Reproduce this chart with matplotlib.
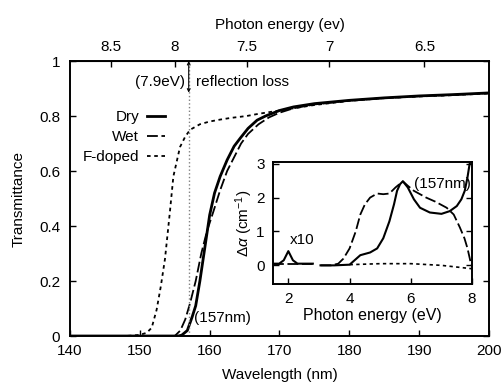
import numpy as np
import matplotlib.pyplot as plt

plt.rcParams['font.family'] = ['Liberation Sans', 'DejaVu Sans']
plt.rcParams['mathtext.fontset'] = 'custom'
plt.rcParams['mathtext.rm'] = 'Liberation Sans'
plt.rcParams['mathtext.it'] = 'Liberation Sans:italic'

# main panel: transmittance vs wavelength
dry_wl = [140, 150, 155.5, 156.0, 156.8, 157.5, 158.0, 158.6, 159.3, 160.0, 160.7, 161.5,
          162.5, 163.5, 164.4, 165.5, 166.8, 168, 170, 172, 175, 180, 185, 190, 195, 200]
dry_t = [0, 0, 0, 0.003, 0.02, 0.07, 0.11, 0.20, 0.32, 0.44, 0.52, 0.58,
         0.64, 0.69, 0.72, 0.755, 0.785, 0.80, 0.82, 0.833, 0.845, 0.857, 0.866, 0.873, 0.878, 0.884]

wet_wl = [140, 150, 155.0, 155.8, 156.5, 157.2, 158.0, 158.8, 159.6, 160.5, 161.5, 162.5,
          163.5, 164.5, 165.5, 167, 168.5, 170, 172, 175, 180, 185, 190, 195, 200]
wet_t = [0, 0, 0, 0.02, 0.06, 0.12, 0.20, 0.30, 0.38, 0.45, 0.53, 0.60,
         0.65, 0.70, 0.735, 0.77, 0.795, 0.812, 0.828, 0.842, 0.856, 0.865, 0.872, 0.877, 0.883]

fdop_wl = [140, 148, 150, 151, 151.7, 152.4, 153.0, 153.6, 154.3, 154.8, 155.75, 156.5,
           157.2, 158.6, 160, 161.5, 163, 165.3, 167, 170, 175, 180, 185, 190, 195, 200]
fdop_t = [0, 0, 0.004, 0.012, 0.03, 0.095, 0.18, 0.28, 0.45, 0.58, 0.687, 0.725,
          0.75, 0.77, 0.78, 0.787, 0.793, 0.80, 0.808, 0.82, 0.84, 0.855, 0.865, 0.871, 0.876, 0.882]

# inset: absorption change vs photon energy
lowE = [1.5, 1.7, 1.85, 2.0, 2.15, 2.3, 2.5, 2.8]
low_dry = [0.05, 0.05, 0.15, 0.42, 0.15, 0.05, 0.05, 0.05]
low_wet = [0.03, 0.03, 0.03, 0.03, 0.03, 0.03, 0.03, 0.03]

dryE = [3.05, 3.5, 4.0, 4.35, 4.67, 4.9, 5.1, 5.3, 5.45, 5.55, 5.65, 5.74, 5.9, 6.1,
        6.3, 6.62, 7.0, 7.27, 7.5, 7.65, 7.76, 7.85, 7.92, 8.0]
dry_da = [0, 0, 0.02, 0.3, 0.38, 0.5, 0.8, 1.3, 1.8, 2.2, 2.4, 2.48, 2.3, 1.95,
          1.7, 1.56, 1.52, 1.6, 1.75, 1.95, 2.2, 2.6, 3.0, 3.1]

wetE = [3.05, 3.4, 3.63, 3.8, 4.0, 4.2, 4.35, 4.5, 4.67, 4.9, 5.1, 5.3, 5.5, 5.74,
        5.9, 6.1, 6.5, 6.8, 7.17, 7.4, 7.6, 7.75, 7.85, 7.95, 8.0]
wet_da = [0, 0, 0.05, 0.2, 0.5, 1.0, 1.5, 1.8, 2.0, 2.12, 2.1, 2.12, 2.3, 2.48,
          2.35, 2.2, 2.0, 1.88, 1.7, 1.5, 1.12, 0.8, 0.5, 0.1, -0.05]

fdopE = [4.0, 5.0, 6.0, 7.0, 7.5, 8.0]
fdop_da = [0.02, 0.05, 0.05, 0.0, -0.05, -0.1]

HC = 1239.84
FS = 11

fig = plt.figure(figsize=(5.04, 3.83), dpi=100)
ax = fig.add_axes([0.1389, 0.1227, 0.8313, 0.718])

ax.plot(dry_wl, dry_t, color='black', lw=2.0, label='Dry')
ax.plot(wet_wl, wet_t, color='black', lw=1.3, ls=(0, (6, 2)), label='Wet')
ax.plot(fdop_wl, fdop_t, color='black', lw=1.3, ls=(0, (2, 2)), label='F-doped')
ax.axvline(157, color='gray', lw=1.0, ls=':')
ax.annotate('', xy=(157, 0.885), xytext=(157, 1.0),
            arrowprops=dict(arrowstyle='<->', lw=0.8, color='black',
                            shrinkA=0, shrinkB=0, mutation_scale=5))

ax.set_xlim(140, 200)
ax.set_ylim(0, 1)
ax.set_xticks([140, 150, 160, 170, 180, 190, 200])
ax.set_yticks([0, 0.2, 0.4, 0.6, 0.8, 1])
ax.set_yticklabels(['0', '0.2', '0.4', '0.6', '0.8', '1'])
ax.tick_params(direction='in', length=4, labelsize=FS, right=True, width=1)
ax.tick_params(axis='x', pad=6)
ax.tick_params(axis='y', pad=7)
for s in ax.spines.values():
    s.set_linewidth(1.4)
ax.set_xlabel('Wavelength (nm)', fontsize=FS, labelpad=7)
ax.set_ylabel('Transmittance', fontsize=FS, labelpad=10)

ax.text(156.4, 0.924, '(7.9eV)', ha='right', va='center', fontsize=FS)
ax.text(158.0, 0.924, 'reflection loss', ha='left', va='center', fontsize=FS)
ax.text(157.8, 0.065, '(157nm)', ha='left', va='center', fontsize=FS)

sec = ax.secondary_xaxis('top', functions=(lambda x: HC / np.maximum(x, 1e-6),
                                           lambda e: HC / np.maximum(e, 1e-6)))
sec.set_xticks([8.5, 8, 7.5, 7, 6.5])
sec.set_xticklabels(['8.5', '8', '7.5', '7', '6.5'])
sec.tick_params(direction='in', length=4, labelsize=FS, width=1, pad=5)
sec.set_xlabel('Photon energy (ev)', fontsize=FS, labelpad=8)

leg = ax.legend(loc='upper right', bbox_to_anchor=(165 / 504, 1 - 110 / 383),
                bbox_transform=fig.transFigure, frameon=False, markerfirst=False,
                fontsize=FS, handlelength=1.2, handletextpad=0.5,
                labelspacing=0.4, borderpad=0, borderaxespad=0)

ins = fig.add_axes([0.5417, 0.2585, 0.395, 0.3185])
ins.plot(lowE, low_wet, color='black', lw=1.3, ls=(0, (6, 2)))
ins.plot(lowE, low_dry, color='black', lw=1.5)
ins.plot(wetE, wet_da, color='black', lw=1.3, ls=(0, (6, 2)))
ins.plot(dryE, dry_da, color='black', lw=1.5)
ins.plot(fdopE, fdop_da, color='black', lw=1.2, ls=(0, (2, 2)))
ins.set_xlim(1.5, 8)
ins.set_ylim(-0.55, 3.05)
ins.set_xticks([2, 4, 6, 8])
ins.set_yticks([0, 1, 2, 3])
ins.tick_params(direction='in', length=4, labelsize=FS, right=True, width=1)
ins.tick_params(axis='x', pad=6)
ins.tick_params(axis='y', pad=6)
for s in ins.spines.values():
    s.set_linewidth(1.4)
ins.set_xlabel('Photon energy (eV)', fontsize=11.5, labelpad=1)
ins.set_ylabel(r'$\Delta\alpha$ (cm$^{-1}$)', fontsize=FS, labelpad=1)
ins.text(2.05, 0.75, 'x10', ha='left', va='center', fontsize=FS)
ins.text(7.95, 2.4, '(157nm)', ha='right', va='center', fontsize=FS)

fig.savefig('out.png', dpi=100)
